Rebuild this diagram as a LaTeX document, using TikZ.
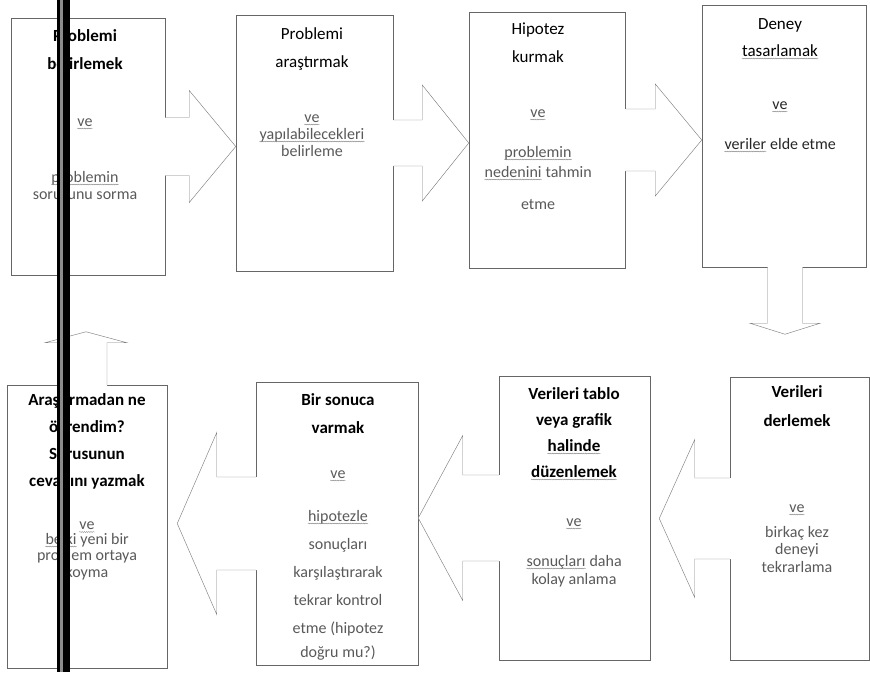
\documentclass[tikz,border=0pt]{standalone}
\usepackage{fontspec}
\setmainfont{Carlito}
\usepackage{tikz}
\usetikzlibrary{calc}
\usetikzlibrary{decorations.pathmorphing}

\newcommand{\dalga}[1]{\tikz[baseline=(dw.base)]{\node[inner sep=0pt, anchor=base] (dw) at (0pt,0pt) {#1}; \draw[black!55, line width=0.35pt, decorate, decoration={snake, amplitude=0.5pt, segment length=2.2pt}] ($(dw.base west)+(0pt,-2.5pt)$) -- ($(dw.base east)+(0pt,-2.5pt)$);}}

\begin{document}
\begin{tikzpicture}[x=1pt,y=-1pt,
		kutu/.style={draw=black!60, line width=0.5pt, inner sep=0pt},
		okcizgi/.style={draw=black!50, line width=0.45pt},
		baslik/.style={font=\fontsize{17}{28}\selectfont, align=center, anchor=base, inner sep=0pt},
		aciklama/.style={font=\fontsize{16}{17}\selectfont, align=center, anchor=base, inner sep=0pt, text=black!65}]
			
			\useasboundingbox (0,0) rectangle (870,672);
			
			\begin{scope}
				\node[kutu, minimum width=154pt, minimum height=257pt] (belirle) at (88,146.5) {};
				\node[kutu, minimum width=157pt, minimum height=256pt] (arastir) at (314.5,143) {};
				\node[kutu, minimum width=156pt, minimum height=256pt] (hipotez) at (547,140) {};
				\node[kutu, minimum width=164pt, minimum height=262pt] (deney) at (784,136) {};
				
				\foreach \ilk/\son/\gv/\bs/\bn in {belirle/arastir/29pt/56pt/24pt, arastir/hipotez/23pt/58pt/29pt, hipotez/deney/31pt/56pt/30pt}{
					\fill[white] let \p1=(\ilk.east), \p2=(\son.west) in (\x1-1pt,\y1+\gv) -- (\x1+\bn,\y1+\gv) -- (\x1+\bn,\y1+\bs) -- (\x2,\y1) -- (\x1+\bn,\y1-\bs) -- (\x1+\bn,\y1-\gv) -- (\x1-1pt,\y1-\gv) -- cycle;
					\draw[okcizgi] let \p1=(\ilk.east), \p2=(\son.west) in (\x1,\y1+\gv) -- (\x1+\bn,\y1+\gv) -- (\x1+\bn,\y1+\bs) -- (\x2,\y1) -- (\x1+\bn,\y1-\bs) -- (\x1+\bn,\y1-\gv) -- (\x1,\y1-\gv);
				}
				
				\node[baslik, font=\fontsize{17}{28}\selectfont\bfseries] (t1) at (85,69) {Problemi\\belirlemek};
				\node[aciklama] (a1) at (85,199) {\dalga{ve}\\[39pt]\dalga{problemin}\\sorusunu sorma};
				\node[baslik] (t2) at (312,67) {Problemi\\araştırmak};
				\node[aciklama] (a2) at (312,156) {\dalga{ve}\\\dalga{yapılabilecekleri}\\belirleme};
				\node[baslik] (t3) at (538,62) {Hipotez\\kurmak};
				\node[aciklama] (a3) at (538,209) {\dalga{ve}\\[23pt]\dalga{problemin}\\[3pt]\dalga{nedenini} tahmin\\[15pt]etme};
				\node[baslik, font=\fontsize{17}{27}\selectfont] (t4) at (780,56) {Deney\\\dalga{tasarlamak}};
				\node[aciklama, text=black!85] (a4) at (780,149) {\dalga{ve}\\[23pt]\dalga{veriler} elde etme};
			\end{scope}
			
			\begin{scope}
				\node[kutu, minimum width=139pt, minimum height=283pt] (derle) at (799.5,518.5) {};
				\node[kutu, minimum width=151pt, minimum height=284pt] (duzenle) at (574.5,518) {};
				\node[kutu, minimum width=162pt, minimum height=283pt] (sonuc) at (337,523.5) {};
				\node[kutu, minimum width=160pt, minimum height=283pt] (ogren) at (87,526.5) {};
				
				\foreach \ilk/\son/\gv/\bs/\bn/\bos in {derle/duzenle/40.5pt/79pt/35pt/9pt, duzenle/sonuc/43pt/82.5pt/36pt/0pt, sonuc/ogren/46.5pt/91pt/39pt/10pt}{
					\fill[white] let \p1=(\ilk.west), \p2=(\son.east) in (\x1+1pt,\y1+\gv) -- (\x1-\bn,\y1+\gv) -- (\x1-\bn,\y1+\bs) -- (\x2+\bos,\y1) -- (\x1-\bn,\y1-\bs) -- (\x1-\bn,\y1-\gv) -- (\x1+1pt,\y1-\gv) -- cycle;
					\draw[okcizgi] let \p1=(\ilk.west), \p2=(\son.east) in (\x1,\y1+\gv) -- (\x1-\bn,\y1+\gv) -- (\x1-\bn,\y1+\bs) -- (\x2+\bos,\y1) -- (\x1-\bn,\y1-\bs) -- (\x1-\bn,\y1-\gv) -- (\x1,\y1-\gv);
				}
				
				\node[baslik, font=\fontsize{17}{29}\selectfont\bfseries] (t5) at (797,426) {Verileri\\derlemek};
				\node[aciklama] (a5) at (797,572) {\dalga{ve}\\[8pt]birkaç kez\\deneyi\\[1pt]tekrarlama};
				\node[baslik, font=\fontsize{17}{26}\selectfont\bfseries] (t6) at (574,477) {Verileri tablo\\veya grafik\\\dalga{halinde}\\\dalga{düzenlemek}};
				\node[aciklama] (a6) at (574,584) {\dalga{ve}\\[23pt]\dalga{sonuçları} daha\\[1pt]kolay anlama};
				\node[baslik, font=\fontsize{17}{28}\selectfont\bfseries] (t7) at (338,433) {Bir sonuca\\varmak};
				\node[aciklama, font=\fontsize{16}{28}\selectfont] (a7) at (338,657) {\dalga{ve}\\[15pt]\dalga{hipotezle}\\sonuçları\\karşılaştırarak\\tekrar kontrol\\etme (hipotez\\[-4pt]doğru mu?)};
				\node[baslik, font=\fontsize{17}{27}\selectfont\bfseries] (t8) at (87,486) {Araştırmadan ne\\öğrendim?\\Sorusunun\\cevabını yazmak};
				\node[aciklama, font=\fontsize{16}{16.5}\selectfont] (a8) at (87,577) {\dalga{ve}\\[-2pt]\dalga{belki} yeni bir\\problem ortaya\\koyma};
			\end{scope}
			
			% dikey oklar
			\coordinate (asagi) at ($(deney.south)+(1,67)$);
			\fill[white] let \p1=(deney.south), \p2=(asagi) in (\x2-17.5pt,\y1+1pt) -- (\x2-17.5pt,\y1-56pt) -- (\x2-35pt,\y1-56pt) -- (\x2,\y2) -- (\x2+35pt,\y1-56pt) -- (\x2+17.5pt,\y1-56pt) -- (\x2+17.5pt,\y1+1pt) -- cycle;
			\draw[okcizgi] let \p1=(deney.south), \p2=(asagi) in (\x2-17.5pt,\y1) -- (\x2-17.5pt,\y1-56pt) -- (\x2-35pt,\y1-56pt) -- (\x2,\y2) -- (\x2+35pt,\y1-56pt) -- (\x2+17.5pt,\y1-56pt) -- (\x2+17.5pt,\y1);
			
			\coordinate (yukari) at ($(ogren.north)+(-1,-53)$);
			\fill[white] let \p1=(ogren.north), \p2=(yukari) in (\x2-21pt,\y1-1pt) -- (\x2-21pt,\y1+42pt) -- (\x2-41pt,\y1+42pt) -- (\x2,\y2) -- (\x2+41pt,\y1+42pt) -- (\x2+21pt,\y1+42pt) -- (\x2+21pt,\y1-1pt) -- cycle;
			\draw[okcizgi] let \p1=(ogren.north), \p2=(yukari) in (\x2-21pt,\y1) -- (\x2-21pt,\y1+42pt) -- (\x2-41pt,\y1+42pt) -- (\x2,\y2) -- (\x2+41pt,\y1+42pt) -- (\x2+21pt,\y1+42pt) -- (\x2+21pt,\y1);
			
			\fill[black] (56.5,0) rectangle (59.5,672);
			\fill[black!45] (60,0) rectangle (62.5,672);
			\fill[black] (62.5,0) rectangle (70,672);
			
		\end{tikzpicture}
\end{document}
